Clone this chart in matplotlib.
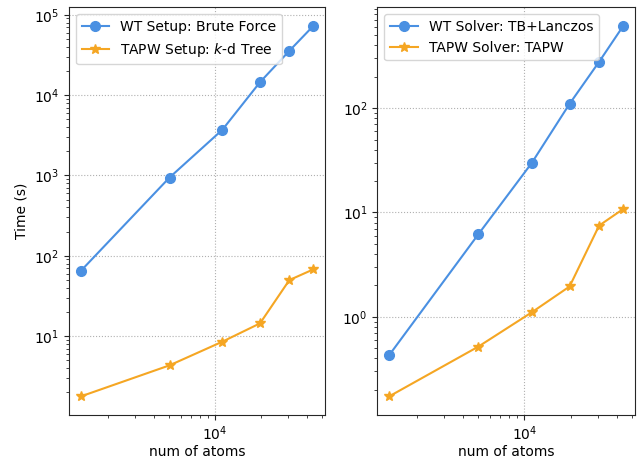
import matplotlib
matplotlib.use("Agg")
import matplotlib.pyplot as plt

atoms = [1324, 5044, 11164, 19684, 30604, 43924]
wt_setup = [64.4, 942, 3700, 14500, 35600, 72900]
tapw_setup = [1.77, 4.32, 8.51, 14.4, 49.8, 67.7]
wt_solver = [0.426, 6.2, 29.7, 110, 278, 615]
tapw_solver = [0.172, 0.518, 1.10, 1.95, 7.48, 10.8]

blue = "#4a90e2"
orange = "#f5a623"

fig = plt.figure(figsize=(6.41, 4.59), dpi=100)
W, H = 641, 459
def rect(l, r, t, b):
    return [l / W, 1 - b / H, (r - l) / W, (b - t) / H]

ax1 = fig.add_axes(rect(69, 325, 7.3, 415))
ax2 = fig.add_axes(rect(377.3, 635, 7.3, 415))

ax1.plot(atoms, wt_setup, "-o", color=blue, markersize=7, linewidth=1.5, label="WT Setup: Brute Force")
ax1.plot(atoms, tapw_setup, "-*", color=orange, markersize=7, linewidth=1.5, label="TAPW Setup: $k$-d Tree")
ax2.plot(atoms, wt_solver, "-o", color=blue, markersize=7, linewidth=1.5, label="WT Solver: TB+Lanczos")
ax2.plot(atoms, tapw_solver, "-*", color=orange, markersize=7, linewidth=1.5, label="TAPW Solver: TAPW")

for ax in (ax1, ax2):
    ax.set_xscale("log")
    ax.set_yscale("log")
    ax.grid(True, linestyle=":", color="#b0b0b0", linewidth=0.8)
    ax.set_xlabel("num of atoms", fontsize=10, labelpad=1)
    ax.legend(loc="upper left", fontsize=10)
    for s in ax.spines.values():
        s.set_color("#262626")
    ax.tick_params(which="both", colors="#262626", labelcolor="black")
ax1.set_ylabel("Time (s)", fontsize=10)

fig.savefig("out.png", dpi=100)
